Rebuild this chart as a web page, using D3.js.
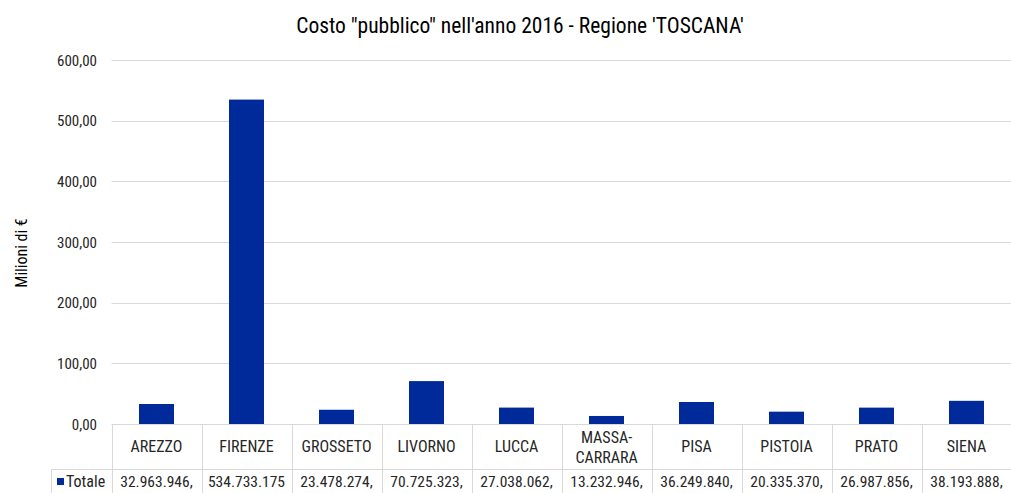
<!DOCTYPE html>
<html><head><meta charset="utf-8">
<script src="https://cdn.jsdelivr.net/npm/d3@7"></script>
<style>
body{margin:0;background:#fff;}
text{font-family:"Roboto Condensed","Liberation Sans Narrow","Arial Narrow","DejaVu Sans Condensed",sans-serif;fill:#262626;}
</style></head>
<body><svg id="c" width="1011" height="493"></svg>
<script>
const categories = ["AREZZO","FIRENZE","GROSSETO","LIVORNO","LUCCA","MASSA-\nCARRARA","PISA","PISTOIA","PRATO","SIENA"];
const values = [32.963946,534.733175,23.478274,70.725323,27.038062,13.232946,36.249840,20.335370,26.987856,38.193888];
const tableLabels = ["32.963.946,","534.733.175","23.478.274,","70.725.323,","27.038.062,","13.232.946,","36.249.840,","20.335.370,","26.987.856,","38.193.888,"];
const yTicks = [0,100,200,300,400,500,600];
const seriesName = "Totale";
const title = "Costo \"pubblico\" nell'anno 2016 - Regione 'TOSCANA'";
const yTitle = "Milioni di €";

const svg = d3.select("#c");
const L = 111.5, R = 1011.5, T = 60, B = 424;
const x = d3.scaleBand().domain(categories).range([L,R]).paddingInner(0).paddingOuter(0);
const y = d3.scaleLinear().domain([0,600]).range([B,T]);
const fmt = d3.formatLocale({decimal:",",thousands:".",grouping:[3],currency:["€",""]}).format(",.2f");
const grid = "#d9d9d9";

svg.append("text").attr("x",520).attr("y",33).attr("text-anchor","middle")
  .style("font-size","21.5px").style("fill","#000").text(title);

svg.append("g").selectAll("line").data(yTicks.filter(d=>d>0)).join("line")
  .attr("x1",L).attr("x2",R).attr("y1",d=>Math.round(y(d))+0.5).attr("y2",d=>Math.round(y(d))+0.5)
  .attr("stroke",grid).attr("stroke-width",1);

svg.append("g").selectAll("text").data(yTicks).join("text")
  .attr("x",97).attr("y",d=>y(d)+5.5).attr("text-anchor","end")
  .style("font-size","15px").text(d=>fmt(d));

svg.append("text").attr("transform","translate(27,253) rotate(-90)").attr("text-anchor","middle")
  .style("font-size","16px").style("fill","#000").text(yTitle);

const bw = 35;
svg.append("g").selectAll("rect").data(values).join("rect")
  .attr("x",(d,i)=>x(categories[i])+x.bandwidth()/2-bw/2).attr("width",bw)
  .attr("y",d=>y(d)).attr("height",d=>B-y(d)).attr("fill","#00299a");

// data table
const rowY1 = 469;
const g = svg.append("g").attr("stroke",grid).attr("stroke-width",1).attr("fill","none");
g.append("line").attr("x1",L).attr("x2",R).attr("y1",B+0.5).attr("y2",B+0.5);
g.append("line").attr("x1",51).attr("x2",R).attr("y1",rowY1+0.5).attr("y2",rowY1+0.5);
g.append("line").attr("x1",51.5).attr("x2",51.5).attr("y1",rowY1).attr("y2",493);
g.selectAll("line.v").data(categories).join("line").attr("class","v")
  .attr("x1",d=>Math.round(x(d))+0.5).attr("x2",d=>Math.round(x(d))+0.5).attr("y1",B).attr("y2",493);

const cat = svg.append("g").selectAll("text").data(categories).join("text")
  .attr("text-anchor","middle").style("font-size","16px")
  .attr("x",d=>x(d)+x.bandwidth()/2);
cat.each(function(d){
  const parts = d.split("\n");
  const t = d3.select(this);
  const y0 = parts.length===1 ? 452 : 443;
  parts.forEach((p,k)=>t.append("tspan").attr("x",x(d)+x.bandwidth()/2).attr("y",y0+k*20).text(p));
});

svg.append("g").selectAll("text").data(tableLabels).join("text")
  .attr("text-anchor","middle").style("font-size","15.5px")
  .attr("x",(d,i)=>x(categories[i])+x.bandwidth()/2).attr("y",487).text(d=>d);

svg.append("rect").attr("x",57).attr("y",478).attr("width",7).attr("height",7).attr("fill","#00299a");
svg.append("text").attr("x",66).attr("y",487).style("font-size","16px").text(seriesName);
</script></body></html>
